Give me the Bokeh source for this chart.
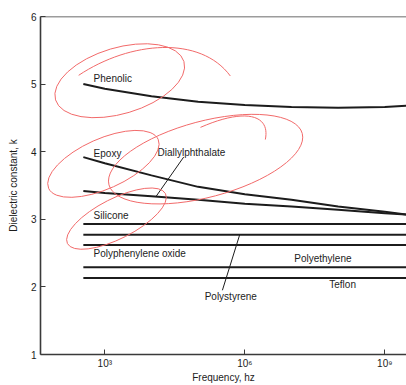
from bokeh.plotting import figure
from bokeh.models import Span, FixedTicker, Range1d
from bokeh.core.properties import value
from bokeh.embed import file_html
from bokeh.resources import INLINE

# ---- data (x in log10 of frequency, Hz) ----
log_freq = [2.54, 3.0, 4.0, 5.0, 6.0, 7.0, 8.0, 9.0, 9.47]
k_phenolic = [5.00, 4.93, 4.82, 4.74, 4.69, 4.66, 4.65, 4.66, 4.68]
k_epoxy = [3.92, 3.83, 3.65, 3.48, 3.37, 3.29, 3.19, 3.11, 3.07]
k_diallyl = [3.42, 3.39, 3.34, 3.29, 3.23, 3.19, 3.14, 3.09, 3.07]

flat_span = [2.54, 9.47]
flat_names = ["Silicone", "Polystyrene", "Polyphenylene oxide", "Polyethylene", "Teflon"]
flat_k = [2.93, 2.77, 2.62, 2.29, 2.13]

x_tick_exponents = [3, 6, 9]
x_tick_labels = ["10³", "10⁶", "10⁹"]
y_ticks = [1, 2, 3, 4, 5, 6]

label_text = ["Phenolic", "Epoxy", "Diallylphthalate", "Silicone",
              "Polyphenylene oxide", "Polystyrene", "Polyethylene", "Teflon"]
label_x = [2.76, 2.76, 4.13, 2.76, 2.76, 5.14, 7.06, 7.81]
label_y = [5.09, 3.98, 3.99, 3.05, 2.50, 1.86, 2.42, 2.04]

leader_x0 = [4.69, 5.52]
leader_y0 = [3.92, 1.95]
leader_x1 = [4.09, 5.89]
leader_y1 = [3.33, 2.77]

# red hand-drawn marks on the scan
ell_x = [3.32, 2.97, 5.16, 3.25]
ell_y = [5.05, 3.82, 3.89, 3.01]
ell_w = [134, 120, 200, 110]
ell_h = [66, 50, 76, 40]
ell_angle = [0.29, 0.42, 0.26, 0.47]

bz_x0 = [2.44, 5.05]
bz_y0 = [5.13, 4.36]
bz_cx0 = [3.55, 6.01]
bz_cy0 = [5.64, 4.65]
bz_cx1 = [5.05, 6.55]
bz_cy1 = [5.72, 4.55]
bz_x1 = [5.69, 6.44]
bz_y1 = [5.12, 4.18]

FONT = "Liberation Sans"
INK = "#1c1c1c"
RED = "#f26a6a"

p = figure(width=406, height=385, output_backend="svg", toolbar_location=None,
           x_range=Range1d(1.622, 9.465), y_range=Range1d(1, 6),
           min_border_left=40, min_border_right=0, min_border_top=16, min_border_bottom=27)
p.outline_line_color = None
p.grid.visible = False
p.background_fill_color = "white"

# axes
p.xaxis.ticker = FixedTicker(ticks=x_tick_exponents)
p.xaxis.major_label_overrides = {t: l for t, l in zip(x_tick_exponents, x_tick_labels)}
p.yaxis.ticker = FixedTicker(ticks=y_ticks)
for ax in (p.xaxis, p.yaxis):
    ax.axis_line_color = "#3a3a3a"
    ax.axis_line_width = 1.6
    ax.major_tick_in = 5
    ax.major_tick_out = 0
    ax.major_tick_line_color = "#3a3a3a"
    ax.minor_tick_line_color = None
    ax.major_label_text_font = FONT
    ax.major_label_text_font_size = "10px"
    ax.major_label_text_color = INK
    ax.axis_label_text_font = FONT
    ax.axis_label_text_font_size = "10px"
    ax.axis_label_text_font_style = "normal"
    ax.axis_label_text_color = INK
p.xaxis.axis_label = "Frequency, hz"
p.yaxis.axis_label = "Dielectric constant, k"
p.xaxis.major_label_standoff = 3
p.xaxis.axis_label_standoff = 0
p.yaxis.major_label_standoff = 4
p.yaxis.axis_label_standoff = 9

p.add_layout(Span(location=6, dimension="width", line_color="#3a3a3a", line_width=1.6))

# curves
for ks in (k_phenolic, k_epoxy, k_diallyl):
    p.line(log_freq, ks, line_color=INK, line_width=2)

# flat lines
p.multi_line(xs=[flat_span for _ in flat_k], ys=[[k, k] for k in flat_k],
             line_color=INK, line_width=2)

# leaders
p.segment(x0=leader_x0, y0=leader_y0, x1=leader_x1, y1=leader_y1,
          line_color=INK, line_width=1)

# labels
p.text(x=label_x, y=label_y, text=label_text, text_font=value(FONT),
       text_font_size=value("10px"), text_color=INK,
       text_align="left", text_baseline="middle")

# red scribbles
p.ellipse(x=ell_x, y=ell_y, width=ell_w, height=ell_h, angle=ell_angle,
          width_units="screen", height_units="screen",
          fill_color=None, line_color=RED, line_width=1)
p.bezier(x0=bz_x0, y0=bz_y0, x1=bz_x1, y1=bz_y1, cx0=bz_cx0, cy0=bz_cy0,
         cx1=bz_cx1, cy1=bz_cy1, line_color=RED, line_width=1)

open("out.html", "w").write(file_html(p, INLINE))
